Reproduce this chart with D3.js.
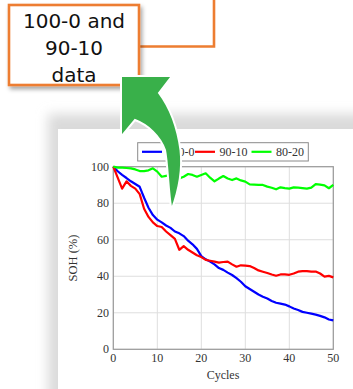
<!DOCTYPE html>
<html>
<head>
<meta charset="utf-8">
<script src="https://cdn.jsdelivr.net/npm/d3@7"></script>
<style>
    body { margin: 0; background: #ffffff; }
    svg { display: block; }
    .tick-label { font-family: "Liberation Serif", serif; font-size: 12px; fill: #333; }
</style>
</head>
<body>
<svg id="chart" width="353" height="389"></svg>
<script>
// data
var cycles = d3.range(0, 51);
var seriesNames = ["100-0", "90-10", "80-20"];
var seriesColors = ["#0000ff", "#ff0000", "#00ff00"];
var soh100 = [100, 97.5, 95.5, 93.8, 92, 90.5, 89, 83, 77.5, 73.5,
    71, 69.5, 67.8, 66.5, 64.5, 63.5, 62, 59.5, 57.5, 55,
    51, 49.3, 48, 46.5, 44.5, 43.5, 42, 40.7, 39, 37,
    34.5, 33, 31.5, 30, 28.8, 27.8, 26.5, 25.5, 25, 24.5,
    23.5, 22.3, 21.5, 20.5, 20, 19.5, 19, 18.3, 17.5, 16.3, 15.8];
var soh90 = [100, 94, 88, 92, 89.5, 88, 85, 77, 72.5, 69.5,
    67.5, 67, 64.5, 62.5, 60.5, 54.5, 56.5, 54.5, 53, 51.5,
    50.5, 49, 48.5, 48, 47.5, 47.8, 48, 46.5, 45.2, 46,
    45.8, 45.6, 44.5, 43.2, 42.5, 41.8, 41, 40.3, 41, 41,
    40.8, 41.5, 42.5, 42.8, 42.8, 42.5, 42.6, 41.5, 39.8, 40.2, 39.4];
var soh80 = [100, 99.5, 99.5, 99.3, 99.1, 98.5, 97.6, 97.6, 98, 99.1,
    97.3, 94.5, 95, 95.5, 95.5, 93.6, 94.5, 96, 95.5, 94.5,
    95.5, 96.4, 94, 92, 93.5, 94.9, 93.5, 92.7, 93.6, 92.5,
    91.8, 90.3, 90.2, 90.1, 90, 89.1, 88.5, 87.6, 88.7, 88.3,
    88, 88.7, 88.5, 88.3, 88, 88.5, 90.5, 90.2, 89.8, 88.2, 90];
var xTicks = [0, 10, 20, 30, 40, 50];
var yTicks = [0, 20, 40, 60, 80, 100];
var boxLines = ["100-0 and", "90-10", "data"];

var allSeries = [soh100, soh90, soh80];

var svg = d3.select("#chart");
var defs = svg.append("defs");

defs.append("filter").attr("id", "blur")
    .attr("x", "-20%").attr("y", "-20%").attr("width", "140%").attr("height", "140%")
    .append("feGaussianBlur").attr("stdDeviation", 6);

var boxShadow = defs.append("filter").attr("id", "boxshadow")
    .attr("x", "-20%").attr("y", "-20%").attr("width", "150%").attr("height", "150%");
boxShadow.append("feDropShadow")
    .attr("dx", 2).attr("dy", 3).attr("stdDeviation", 2)
    .attr("flood-color", "#000").attr("flood-opacity", 0.35);

// slide panel with its soft shadow
svg.append("rect")
    .attr("x", 48).attr("y", 114).attr("width", 330).attr("height", 300)
    .attr("fill", "#dadada")
    .attr("filter", "url(#blur)");
svg.append("rect")
    .attr("x", 58).attr("y", 129).attr("width", 300).attr("height", 270)
    .attr("fill", "#ffffff");

// scales
var x = d3.scaleLinear().domain([0, 50]).range([113.3, 333.3]);
var y = d3.scaleLinear().domain([0, 100]).range([349.3, 166.7]);

var plot = svg.append("g");

// grid
plot.selectAll(".vgrid")
    .data(xTicks)
    .enter()
    .append("line")
    .attr("x1", function(d) { return x(d); })
    .attr("x2", function(d) { return x(d); })
    .attr("y1", y(0)).attr("y2", y(100))
    .attr("stroke", "#dedede").attr("stroke-width", 1);
plot.selectAll(".hgrid")
    .data(yTicks)
    .enter()
    .append("line")
    .attr("y1", function(d) { return y(d); })
    .attr("y2", function(d) { return y(d); })
    .attr("x1", x(0)).attr("x2", x(50))
    .attr("stroke", "#dedede").attr("stroke-width", 1);

// frame
plot.append("rect")
    .attr("x", x(0)).attr("y", y(100))
    .attr("width", x(50) - x(0)).attr("height", y(0) - y(100))
    .attr("fill", "none").attr("stroke", "#9a9a9a").attr("stroke-width", 1.2);

// tick labels
plot.selectAll(".xlab")
    .data(xTicks)
    .enter()
    .append("text")
    .attr("class", "tick-label")
    .attr("x", function(d) { return x(d); })
    .attr("y", 362)
    .attr("text-anchor", "middle")
    .text(function(d) { return d; });
plot.selectAll(".ylab")
    .data(yTicks)
    .enter()
    .append("text")
    .attr("class", "tick-label")
    .attr("x", 109)
    .attr("y", function(d) { return y(d); })
    .attr("dy", "0.33em")
    .attr("text-anchor", "end")
    .text(function(d) { return d; });

plot.append("text")
    .attr("class", "tick-label")
    .attr("x", 223).attr("y", 379)
    .attr("text-anchor", "middle")
    .text("Cycles");
plot.append("text")
    .attr("class", "tick-label")
    .attr("transform", "translate(77, 258) rotate(-90)")
    .attr("text-anchor", "middle")
    .style("font-size", "12.5px")
    .text("SOH (%)");

// lines
var line = d3.line()
    .x(function(d, i) { return x(cycles[i]); })
    .y(function(d) { return y(d); });

plot.selectAll(".series")
    .data(allSeries)
    .enter()
    .append("path")
    .attr("d", line)
    .attr("fill", "none")
    .attr("stroke", function(d, i) { return seriesColors[i]; })
    .attr("stroke-width", 2.2)
    .attr("stroke-linejoin", "round");

// legend
var legend = svg.append("g");
legend.append("rect")
    .attr("x", 137.7).attr("y", 142.7).attr("width", 170.6).attr("height", 18.3)
    .attr("fill", "#ffffff").attr("stroke", "#8a8a8a").attr("stroke-width", 1);
var legendX = [142, 195, 251.5];
seriesNames.forEach(function(name, i) {
    legend.append("line")
        .attr("x1", legendX[i]).attr("x2", legendX[i] + 20)
        .attr("y1", 151.8).attr("y2", 151.8)
        .attr("stroke", seriesColors[i]).attr("stroke-width", 2.2);
    legend.append("text")
        .attr("class", "tick-label")
        .attr("x", legendX[i] + 24.5).attr("y", 156)
        .text(name);
});

// orange callout
var orange = "#ed7d31";
svg.append("path")
    .attr("d", "M139,46.5 L214,46.5 L214,0")
    .attr("fill", "none").attr("stroke", orange).attr("stroke-width", 2.6);
svg.append("rect")
    .attr("x", 9).attr("y", 5).attr("width", 130).attr("height", 80)
    .attr("fill", "#ffffff").attr("stroke", orange).attr("stroke-width", 2.6)
    .attr("filter", "url(#boxshadow)");
svg.append("g").selectAll("text")
    .data(boxLines)
    .enter()
    .append("text")
    .attr("x", 74)
    .attr("y", function(d, i) { return 28 + i * 27; })
    .attr("text-anchor", "middle")
    .attr("font-family", "DejaVu Sans, sans-serif")
    .attr("font-size", "20px")
    .attr("fill", "#111")
    .text(function(d) { return d; });

// green curved arrow
svg.append("path")
    .attr("d", "M121,76 L172,76 L159,93 C168,105 177,125 180.5,150 C182.5,168 179,190 171.5,210 " +
        "C168,190 168,165 165,150 C160,136 148,125 135,120 L121,137 Z")
    .attr("fill", "#39b04a")
    .attr("stroke", "#ffffff").attr("stroke-width", 2)
    .attr("stroke-linejoin", "miter");
</script>
</body>
</html>
